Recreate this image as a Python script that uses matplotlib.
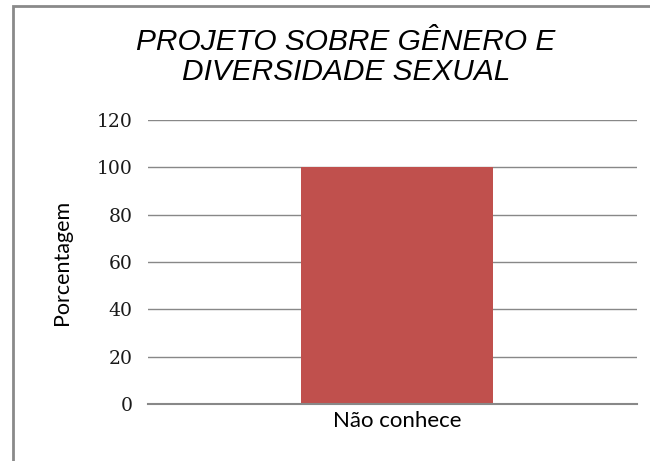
import matplotlib
matplotlib.use("Agg")
import matplotlib.pyplot as plt
from matplotlib.patches import Rectangle

categories = ["Não conhece"]
values = [100]
yticks = [0, 20, 40, 60, 80, 100, 120]
title = "PROJETO SOBRE GÊNERO E\nDIVERSIDADE SEXUAL"
ylabel = "Porcentagem"

fig = plt.figure(figsize=(6.5, 4.61), dpi=100)
ax = fig.add_axes([148/650, 57/461, 489/650, 284/461])

ax.bar(range(len(categories)), values, width=0.393, color="#C0504D", zorder=3)
ax.set_xlim(-0.509, len(categories) - 0.509)
ax.set_ylim(0, 120)
ax.set_yticks(yticks)
ax.set_yticklabels([str(t) for t in yticks], family="DejaVu Serif", fontsize=13.5,
                   color="#1a1a1a")
ax.set_xticks(range(len(categories)))
ax.set_xticklabels(categories, family="Lato", fontsize=16)
ax.tick_params(axis="y", length=0, pad=11)
ax.tick_params(axis="x", length=0, pad=5)
ax.grid(axis="y", color="#888888", linewidth=1, zorder=0)
for s in ["top", "right", "left"]:
    ax.spines[s].set_visible(False)
ax.spines["bottom"].set_color("#888888")
ax.spines["bottom"].set_linewidth(1.5)
ax.spines["bottom"].set_zorder(4)

ax.set_ylabel(ylabel, family="Lato", fontsize=15.5)
ax.yaxis.set_label_coords((62 - 148) / 489, 0.5)
ax.yaxis.label.set_va("center")

fig.text(346/650, 1 - 57/461, title, ha="center", va="center",
         family="Liberation Sans", style="italic", fontsize=21.5, linespacing=1.12)

fig.patches.append(Rectangle((13/650, -0.05), 1.0, 1 - 6/461 + 0.05,
                             transform=fig.transFigure, fill=False,
                             edgecolor="#8a8a8a", linewidth=2))

fig.savefig("out.png", dpi=100)
